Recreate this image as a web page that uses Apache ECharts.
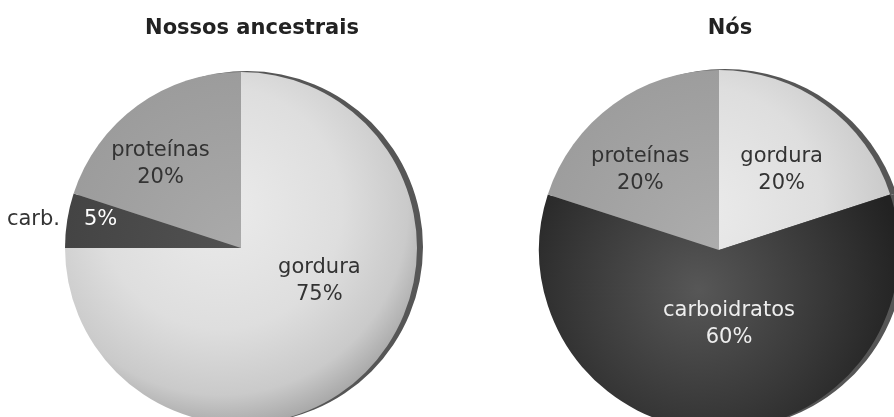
<!DOCTYPE html>
<html>
<head>
<meta charset="utf-8">
<script src="https://cdn.jsdelivr.net/npm/echarts@6/dist/echarts.min.js"></script>
<style>html,body{margin:0;padding:0;background:#fff}#c{width:894px;height:417px}</style>
</head>
<body>
<div id="c"></div>
<script>
// ---- data ----
const titles = ['Nossos ancestrais', 'Nós'];
const leftNames = ['gordura', 'carb.', 'proteínas'];
const leftValues = [75, 5, 20];
const rightNames = ['gordura', 'carboidratos', 'proteínas'];
const rightValues = [20, 60, 20];

// ---- layout / style ----
const FONT = 'DejaVu Sans';
const L = {cx: 241, cy: 248, r: 176};
const R = {cx: 719, cy: 250, r: 180};

function radial(cx, cy, r, stops) {
  return {type: 'radial', x: cx, y: cy, r: r, global: true,
    colorStops: stops.map(s => ({offset: s[0], color: s[1]}))};
}

const leftColors = [
  radial(L.cx - 20, L.cy - 40, L.r * 1.25, [[0, '#ebebeb'], [0.55, '#dedede'], [0.85, '#cacaca'], [1, '#a9a9a9']]),
  radial(L.cx, L.cy, L.r, [[0, '#525252'], [1, '#444']]),
  radial(L.cx, L.cy, L.r, [[0, '#aaaaaa'], [1, '#9c9c9c']])
];
const rightColors = [
  radial(R.cx - 20, R.cy - 40, R.r * 1.25, [[0, '#ebebeb'], [0.55, '#dedede'], [0.85, '#cacaca'], [1, '#a9a9a9']]),
  radial(R.cx - 20, R.cy + 40, R.r * 1.15, [[0, '#575757'], [0.6, '#383838'], [1, '#222']]),
  radial(R.cx, R.cy, R.r, [[0, '#adadad'], [1, '#9d9d9d']])
];
// label nudges relative to ECharts' inside position
const leftShift = [[14, -31], [-89, -14], [-27, -10]];
const rightShift = [[8, -5], [10, -19], [-24, -5]];
const leftText = ['#333', '#fff', '#333'];
const rightText = ['#333', '#eee', '#333'];

function buildData(names, values, colors, textColors, carbIdx) {
  return names.map((n, i) => {
    const item = {name: n, value: values[i], itemStyle: {color: colors[i]},
      label: {color: textColors[i]}};
    if (i === carbIdx) {
      item.label.formatter = '{o|' + n + '}{g|}{i|' + values[i] + '%}';
    }
    return item;
  });
}

function rim(c, values) {
  return {
    type: 'pie', silent: true, animation: false,
    center: [c.cx + 6, c.cy - 1], radius: c.r,
    startAngle: 90, label: {show: false}, labelLine: {show: false},
    itemStyle: {color: '#565656', borderWidth: 0},
    data: values.map(v => ({value: v})), z: 1
  };
}

function pie(c, names, values, colors, textColors, shifts, carbIdx) {
  return {
    type: 'pie', animation: false, silent: true,
    center: [c.cx, c.cy], radius: c.r, startAngle: 90, clockwise: true,
    avoidLabelOverlap: false,
    itemStyle: {borderWidth: 0},
    label: {
      show: true, position: 'inside', fontFamily: FONT, fontSize: 21,
      lineHeight: 27, align: 'center',
      formatter: p => p.name + '\n' + p.value + '%',
      rich: {
        o: {color: '#333', fontFamily: FONT, fontSize: 21},
        g: {width: 24},
        i: {color: '#fff', fontFamily: FONT, fontSize: 21}
      }
    },
    labelLine: {show: false},
    labelLayout: p => ({dx: shifts[p.dataIndex][0], dy: shifts[p.dataIndex][1]}),
    data: buildData(names, values, colors, textColors, carbIdx), z: 2
  };
}

const chart = echarts.init(document.getElementById('c'));
chart.setOption({
  backgroundColor: '#fff',
  animation: false,
  title: [
    {text: titles[0], left: 247, top: 13, textAlign: 'center',
      textStyle: {fontFamily: FONT, fontWeight: 'bold', fontSize: 21, color: '#222'}},
    {text: titles[1], left: 725, top: 13, textAlign: 'center',
      textStyle: {fontFamily: FONT, fontWeight: 'bold', fontSize: 21, color: '#222'}}
  ],
  series: [
    rim(L, leftValues),
    rim(R, rightValues),
    pie(L, leftNames, leftValues, leftColors, leftText, leftShift, 1),
    pie(R, rightNames, rightValues, rightColors, rightText, rightShift, -1)
  ]
});
</script>
</body>
</html>
